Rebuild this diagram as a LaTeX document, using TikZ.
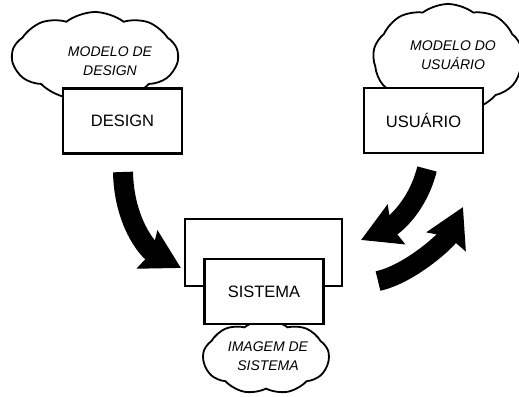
\documentclass[tikz,border=0pt]{standalone}
\usepackage{fontspec}
\setmainfont{Liberation Sans}
\usetikzlibrary{shapes,arrows.meta}
\tikzstyle{box}=[rectangle,draw,line width=2.2pt,fill=white,minimum width=119pt,minimum height=65pt,font=\fontsize{16.5}{19}\selectfont]
\tikzstyle{mcloud}=[cloud,draw,line width=1.8pt,cloud puffs=9,cloud puff arc=75,cloud ignores aspect,inner sep=0pt]
\tikzstyle{mlabel}=[align=center,font=\fontsize{14}{19}\selectfont\itshape]
\tikzstyle{bigarrow}=[line width=20pt,-{Stealth[length=38pt,width=42pt,inset=5pt]}]

\begin{document}
\begin{tikzpicture}[x=1pt,y=-1pt]
    \useasboundingbox (0,0) rectangle (519,396);
    % clouds and their labels
    \node[mcloud,minimum width=166pt,minimum height=88pt,shape border rotate=10] (CD) at (95,56) {};
    \node[mcloud,minimum width=150pt,minimum height=108pt,shape border rotate=25] (CU) at (448,58) {};
    \node[mcloud,minimum width=126pt,minimum height=74pt,shape border rotate=5] (CS) at (266,357) {};
    \node[mlabel] (LD) at (110,61) {MODELO DE\\DESIGN};
    \node[mlabel] (LU) at (453,55) {MODELO DO\\USUÁRIO};
    \node[mlabel] (LS) at (268,356) {IMAGEM DE\\SISTEMA};
    % boxes
    \node[box] (D) at (122.5,121) {DESIGN};
    \node[box] (U) at (423.5,120.5) {USUÁRIO};
    \node[box,minimum width=157pt,minimum height=67pt] (SB) at (263.5,252.5) {};
    \node[box] (S) at (264,291.5) {SISTEMA};
    % arrows
    \coordinate (a1) at (123,172);
    \coordinate (a2) at (181,268);
    \coordinate (b1) at (427,169);
    \coordinate (b2) at (361,240);
    \coordinate (c1) at (378,281);
    \coordinate (c2) at (463,207);
    \draw[bigarrow] (a1) .. controls (124,222) and (148,250) .. (a2);
    \draw[bigarrow] (b1) .. controls (418,205) and (395,225) .. (b2);
    \draw[bigarrow] (c1) .. controls (410,274) and (447,240) .. (c2);
\end{tikzpicture}
\end{document}
